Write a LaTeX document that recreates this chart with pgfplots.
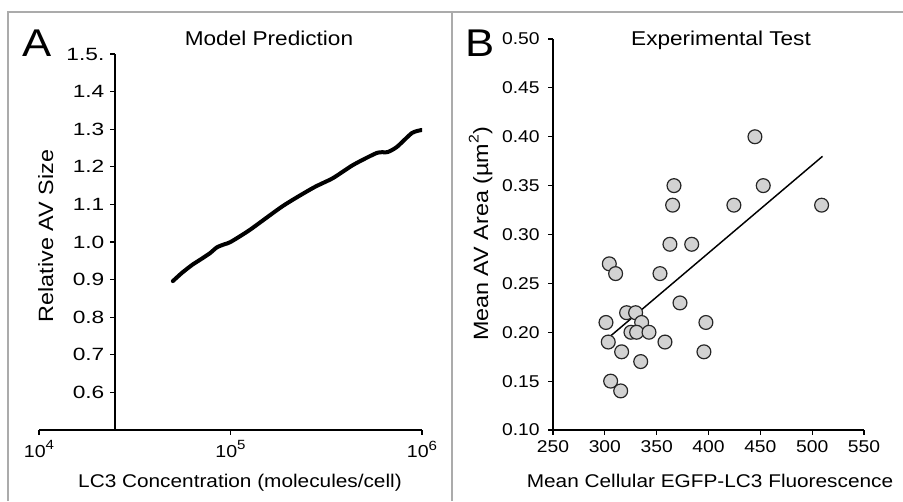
\documentclass[border=0pt]{standalone}
\usepackage{fontspec}
\setmainfont{Liberation Sans}[FakeStretch=1.13]
\newfontfamily\widefont{Liberation Sans}[FakeStretch=1.28]
\usepackage{pgfplots}
\pgfplotsset{compat=1.18}
\definecolor{framegray}{HTML}{ABABAB}
\definecolor{dotfill}{HTML}{D2D2D2}
\newcommand{\expo}[1]{\raisebox{0.42em}{\fontsize{10}{11}\selectfont #1}}

\begin{document}
\begin{tikzpicture}
\path[use as bounding box] (0,0) rectangle (677.25pt,375.75pt);
\draw[framegray, line width=1.3pt] (6pt,0) -- (6pt,366.75pt) -- (677.25pt,366.75pt);
\draw[framegray, line width=0.9pt] (339pt,0) -- (339pt,366.75pt);

\pgfplotsset{every axis/.append style={
  scale only axis, anchor=south west,
  axis x line=bottom, axis y line=left,
  axis line style={-, line width=0.8pt},
  tick align=outside, major tick length=3.5pt,
  every tick/.style={black, line width=0.8pt},
  tick label style={font=\fontsize{12.8}{14}\selectfont},
  /pgf/number format/assume math mode=true}}

% A: model prediction
\begin{axis}[at={(29.25pt,53.25pt)}, width=287.25pt, height=282pt,
  xmode=log, xmin=1e4, xmax=1e6, ymin=0.5, ymax=1.5,
  axis y line shift=-57pt,
  xtick={1e4,1e5,1e6},
  xticklabels={10\expo{4},10\expo{5},10\expo{6}},
  xticklabel style={font=\fontsize{13}{15}\selectfont, yshift=-1pt},
  xminorticks=false,
  ytick={0.6,0.7,0.8,0.9,1.0,1.1,1.2,1.3,1.4,1.5},
  yticklabels={0.6,0.7,0.8,0.9,1.0,1.1,1.2,1.3,1.4,1.5.},
  yticklabel style={font=\widefont\fontsize{13.3}{15}\selectfont, xshift=-1pt}]
\addplot[black, line width=3pt, smooth, tension=0.4, line cap=round] coordinates {
  (5.0e4,0.896)(5.58e4,0.918)(6.3e4,0.939)(6.9e4,0.952)(7.8e4,0.970)
  (8.5e4,0.986)(9.3e4,0.994)(1.0e5,1.000)(1.26e5,1.032)(1.88e5,1.096)
  (2.7e5,1.144)(3.43e5,1.170)(4.37e5,1.205)(5.82e5,1.237)(6.6e5,1.239)
  (7.4e5,1.253)(8.87e5,1.290)(1.0e6,1.298)};
\end{axis}

% B: experimental test
\begin{axis}[at={(414.75pt,53.25pt)}, width=233.25pt, height=293.25pt,
  xmin=250, xmax=550, ymin=0.1, ymax=0.5,
  xtick={250,300,350,400,450,500,550},
  ytick={0.10,0.15,0.20,0.25,0.30,0.35,0.40,0.45,0.50},
  xticklabel style={yshift=-1pt},
  yticklabel style={xshift=-3pt, /pgf/number format/.cd, fixed, fixed zerofill, precision=2},
  scaled y ticks=false, clip=false]
\addplot[only marks, mark=*, mark size=5.2pt,
  mark options={fill=dotfill, draw=black!85, line width=0.9pt}] coordinates {
  (304.3,0.27)(310.4,0.26)(353.2,0.26)(372.5,0.23)(321.0,0.22)(329.7,0.22)
  (301.1,0.21)(335.5,0.21)(397.5,0.21)(325.2,0.20)(330.7,0.20)(342.6,0.20)
  (303.3,0.19)(358.0,0.19)(316.2,0.18)(395.6,0.18)(334.6,0.17)(305.6,0.15)
  (315.3,0.14)(444.8,0.40)(366.7,0.35)(452.8,0.35)(365.4,0.33)(424.5,0.33)
  (509.1,0.33)(362.8,0.29)(383.8,0.29)};
\addplot[black, line width=1.1pt] coordinates {(302,0.193)(510,0.380)};
\end{axis}

% panel letters, titles, axis labels
\node[font=\fontsize{29}{32}\selectfont, anchor=base] at (28.1pt,333pt) {A};
\node[font=\fontsize{29}{32}\selectfont, anchor=base] at (360.4pt,333pt) {B};
\node[font=\fontsize{15}{18}\selectfont, anchor=base] at (201.75pt,341.6pt) {Model Prediction};
\node[font=\fontsize{15}{18}\selectfont, anchor=base] at (540.75pt,341.6pt) {Experimental Test};
\node[font=\fontsize{13.8}{16}\selectfont, anchor=base] at (180pt,10.25pt) {LC3 Concentration (molecules/cell)};
\node[font=\fontsize{13.8}{16}\selectfont, anchor=base] at (532.5pt,10.25pt) {Mean Cellular EGFP-LC3 Fluorescence};
\node[font=\fontsize{15.5}{18}\selectfont, rotate=90, anchor=base] at (39.75pt,198.75pt) {Relative AV Size};
\node[font=\fontsize{15.5}{18}\selectfont, rotate=90, anchor=base] at (366pt,200.25pt) {Mean AV Area (µm\raisebox{0.45em}{\fontsize{10.5}{11}\selectfont 2})};
\end{tikzpicture}
\end{document}
